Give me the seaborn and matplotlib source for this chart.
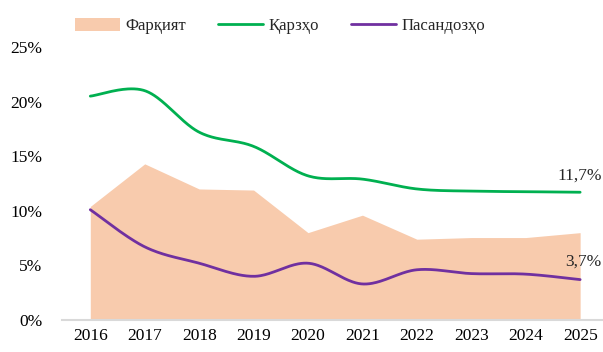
import numpy as np
import pandas as pd
import matplotlib
matplotlib.use("Agg")
import matplotlib.pyplot as plt
import seaborn as sns
from matplotlib.patches import Patch
from matplotlib.lines import Line2D

# Interest rates, percent
years = [2016, 2017, 2018, 2019, 2020, 2021, 2022, 2023, 2024, 2025]
loans = [20.5, 21.0, 17.2, 15.9, 13.2, 12.9, 12.0, 11.8, 11.75, 11.7]
deposits = [10.1, 6.7, 5.2, 4.0, 5.2, 3.3, 4.6, 4.25, 4.2, 3.7]
spread = [10.4, 14.3, 12.0, 11.9, 8.0, 9.6, 7.4, 7.55, 7.55, 8.0]
y_ticks = [0, 5, 10, 15, 20, 25]

label_spread = "Фарқият"
label_loans = "Қарзҳо"
label_deposits = "Пасандозҳо"

GREEN = "#00B050"
PURPLE = "#7030A0"
PEACH = "#F8CBAD"

sns.set_theme(style="white")
plt.rcParams["font.family"] = ["Liberation Serif", "DejaVu Serif"]


def smooth(xs, ys, n=40):
    """Bezier smoothing through every point (spreadsheet-style smoothed line)."""
    pts = np.column_stack([xs, ys]).astype(float)
    padded = np.vstack([pts[0], pts, pts[-1]])
    out = []
    t = np.linspace(0, 1, n)[:, None]
    for i in range(len(pts) - 1):
        p0, p3 = padded[i + 1], padded[i + 2]
        c1 = p0 + (padded[i + 2] - padded[i]) / 6.0
        c2 = p3 - (padded[i + 3] - padded[i + 1]) / 6.0
        seg = ((1 - t) ** 3) * p0 + 3 * ((1 - t) ** 2) * t * c1 + 3 * (1 - t) * t ** 2 * c2 + t ** 3 * p3
        out.append(seg if i == 0 else seg[1:])
    return np.vstack(out)


pos = np.arange(len(years))
frames = []
for name, vals in [(label_loans, loans), (label_deposits, deposits)]:
    curve = smooth(pos, vals)
    frames.append(pd.DataFrame({"x": curve[:, 0], "y": curve[:, 1], "series": name}))
curves = pd.concat(frames, ignore_index=True)

fig = plt.figure(figsize=(6.03, 3.52), dpi=100)
ax = fig.add_axes([62 / 603, 1 - 320 / 352, 1 - 62 / 603, (320 - 47) / 352])

ax.fill_between(pos, 0, spread, color=PEACH, linewidth=0, zorder=1)
sns.lineplot(data=curves, x="x", y="y", hue="series", sort=False, estimator=None,
             palette={label_loans: GREEN, label_deposits: PURPLE},
             linewidth=2.0, legend=False, ax=ax, zorder=3)

ax.set_xlim(-0.52, 9.42)
ax.set_ylim(0, 25)
ax.set_xticks(pos)
ax.set_xticklabels([str(y) for y in years])
ax.set_yticks(y_ticks)
ax.set_yticklabels([f"{v}%" for v in y_ticks])
ax.set_xlabel("")
ax.set_ylabel("")
ax.tick_params(axis="both", length=0, labelsize=12.5, colors="black")
ax.tick_params(axis="y", pad=14)
ax.tick_params(axis="x", pad=6)
for side in ["top", "right", "left"]:
    ax.spines[side].set_visible(False)
ax.spines["bottom"].set_color("#D9D9D9")
ax.spines["bottom"].set_linewidth(1.5)
ax.grid(False)

# End-of-series value labels, right-aligned to the figure edge
for vals, dy in [(loans, 6), (deposits, 7)]:
    ax.annotate(f"{vals[-1]:.1f}%".replace(".", ","), (pos[-1], vals[-1]),
                xytext=(15.5, dy), textcoords="offset points", ha="right", va="bottom",
                fontsize=12.5)

handles = [
    Patch(facecolor=PEACH, edgecolor="none"),
    Line2D([0], [0], color=GREEN, linewidth=2.0),
    Line2D([0], [0], color=PURPLE, linewidth=2.0),
]
fig.legend(handles, [label_spread, label_loans, label_deposits], ncol=3,
           loc="center", bbox_to_anchor=(0.465, 1 - 26 / 352), frameon=False,
           fontsize=12, handlelength=2.7, handleheight=0.8, columnspacing=1.9,
           handletextpad=0.35)

fig.savefig("out.png", dpi=100)
